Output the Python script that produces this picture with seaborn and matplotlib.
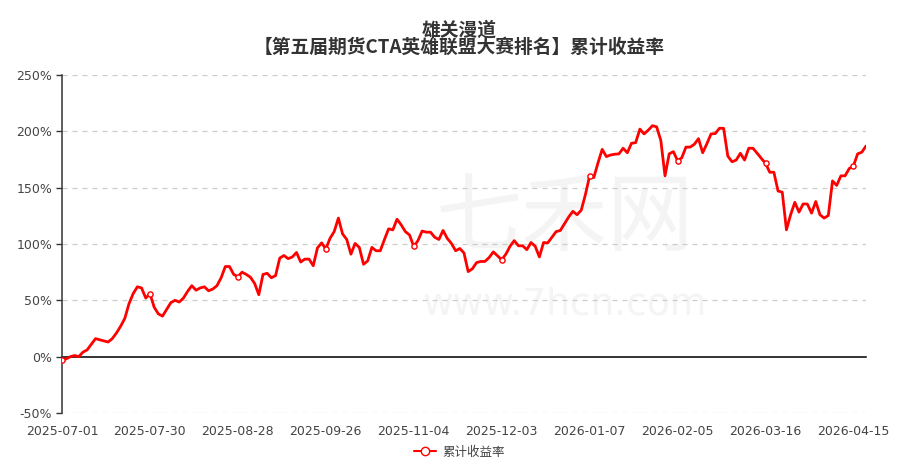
import matplotlib
matplotlib.use("Agg")
import matplotlib.pyplot as plt
from matplotlib.lines import Line2D
import seaborn as sns
import pandas as pd

# cumulative return (%) per trading day
returns = [
    -3, -2, 0, 1, 0, 4, 6, 11, 16, 15,
    14, 13, 16, 21, 27, 34, 47, 56, 62, 61,
    52, 56, 44, 38, 36, 42, 48, 50, 48.5, 52,
    58, 63, 59, 61, 62, 58.5, 60, 63, 70, 80,
    80, 73, 71, 75, 73, 70.5, 65, 55, 73, 74,
    70, 72, 87.5, 89.8, 87, 88.5, 92.5, 84, 86.6, 86.6,
    80.7, 96.5, 101, 95.5, 105, 111, 123, 109, 104, 91,
    100.5, 97, 82, 85, 97, 94, 94, 104, 113.5, 112.5,
    122, 117, 111, 108, 97.8, 103, 111.5, 110.5, 110.5, 106,
    104, 112, 105, 100.5, 94, 96, 92, 75.5, 78, 83.5,
    84.5, 84.5, 88, 93, 89.5, 86, 91, 98, 103, 98.4,
    98.4, 95, 101.3, 98, 88.5, 101.3, 101, 106, 111, 112,
    118, 124, 129, 126, 130, 144, 160.5, 159, 172, 184,
    177.6, 179, 179.7, 180, 185, 181, 189.4, 190, 202, 197.7,
    201, 205, 204, 192, 160.5, 180, 182, 174, 176.5, 186,
    186, 188.5, 193.5, 181, 189, 197.7, 198, 202.7, 202.7, 178,
    173, 174.5, 180.5, 174.5, 185, 185, 180.6, 176, 171.7, 163.7,
    163.7, 147, 146, 112.6, 126, 137, 128.3, 135.6, 135.4, 127.4,
    137.7, 126, 123, 125.3, 156, 152, 160.5, 160.5, 167, 169.3,
    180, 181.5, 187,
]

tick_labels = [
    "2025-07-01", "2025-07-30", "2025-08-28", "2025-09-26", "2025-11-04",
    "2025-12-03", "2026-01-07", "2026-02-05", "2026-03-16", "2026-04-15",
]
label_step = 21
y_ticks = [-50, 0, 50, 100, 150, 200, 250]

title_line1 = "雄关漫道"
title_line2 = "【第五届期货CTA英雄联盟大赛排名】累计收益率"
series_name = "累计收益率"

df = pd.DataFrame({"idx": range(len(returns)), "ret": returns})
tick_pos = [i * label_step for i in range(len(tick_labels))]
mk = df[df["idx"].isin(tick_pos)]

sns.set_theme(style="white")
plt.rcParams["font.family"] = ["DejaVu Sans", "Noto Sans CJK SC"]

fig = plt.figure(figsize=(9.19, 4.65), dpi=100)
ax = fig.add_axes([62 / 919, 1 - 413 / 465, 804 / 919, 338 / 465])

# watermark
ax.text(0.625, (413 - 220) / 338, "七禾网", transform=ax.transAxes, ha="center", va="center",
        fontsize=62, color="#f4f4f4", family=["Noto Sans CJK SC"], zorder=0)
ax.text(0.625, (413 - 304) / 338, "www.7hcn.com", transform=ax.transAxes, ha="center",
        va="center", fontsize=27, color="#f4f4f4", zorder=0)

for yv in y_ticks:
    if yv != 0:
        ax.axhline(yv, color="#cccccc", lw=0.9, ls=(0, (4, 4)), zorder=1)
ax.axhline(0, color="#333333", lw=1.1, zorder=2)

sns.lineplot(data=df, x="idx", y="ret", color="#ff0000", lw=2, ax=ax, zorder=3)
sns.scatterplot(data=mk, x="idx", y="ret", s=14, facecolor="white",
                edgecolor="#ff0000", linewidth=1.0, ax=ax, zorder=4)

ax.set_xlim(0, len(returns) - 1)
ax.set_ylim(-50, 250)
ax.set_xticks(tick_pos)
ax.set_xticklabels(tick_labels)
ax.set_yticks(y_ticks)
ax.set_yticklabels([f"{v}%" for v in y_ticks])
ax.set_xlabel("")
ax.set_ylabel("")

for s in ["top", "right"]:
    ax.spines[s].set_visible(False)
ax.spines["bottom"].set_position(("data", 0))
ax.spines["bottom"].set_color("#333333")
ax.spines["left"].set_color("#333333")
ax.spines["left"].set_linewidth(1.1)
ax.tick_params(axis="x", direction="out", length=4, width=1, color="#333333",
               pad=45, labelsize=9, labelcolor="#444444")
ax.tick_params(axis="y", direction="out", length=4, width=1, color="#333333",
               pad=3, labelsize=9, labelcolor="#444444", left=True)

fig.text(0.5, 1 - 38.5 / 465, title_line1 + "\n" + title_line2, ha="center", va="center",
         multialignment="center", linespacing=0.92,
         fontsize=13.5, fontweight="bold", color="#333333", family=["Noto Sans CJK SC"])

handle = Line2D([0], [0], color="#ff0000", lw=1.5, marker="o", markersize=6,
                markerfacecolor="white", markeredgecolor="#ff0000")
leg = fig.legend([handle], [series_name], loc="center", bbox_to_anchor=(0.5, 1 - 452 / 465),
                 frameon=False, handlelength=1.8, handletextpad=0.5,
                 prop={"family": "Noto Sans CJK SC", "size": 9})
for t in leg.get_texts():
    t.set_color("#444444")

fig.savefig("out.png", dpi=100)
